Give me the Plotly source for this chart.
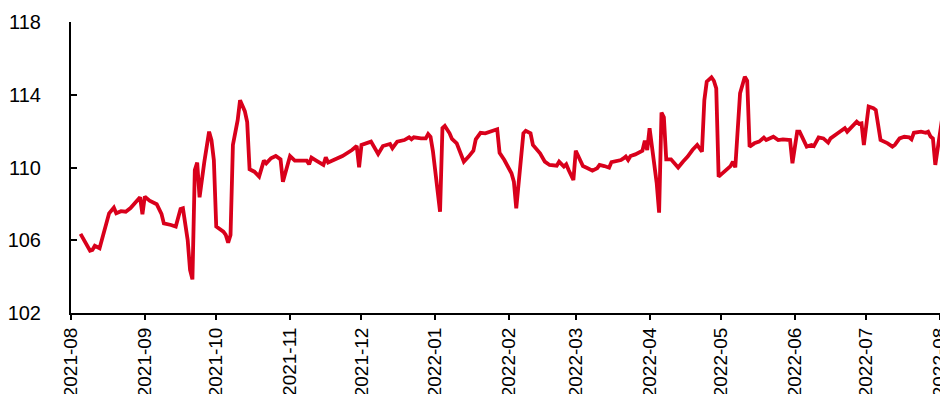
import plotly.graph_objects as go

dates = [
    "2021-08-05", "2021-08-07", "2021-08-09", "2021-08-10", "2021-08-11", "2021-08-13",
    "2021-08-17", "2021-08-19", "2021-08-20", "2021-08-22", "2021-08-24", "2021-08-26",
    "2021-08-28", "2021-08-30", "2021-08-31",
    "2021-09-01", "2021-09-03", "2021-09-06", "2021-09-08", "2021-09-09", "2021-09-12",
    "2021-09-14", "2021-09-16", "2021-09-17", "2021-09-19", "2021-09-20", "2021-09-21",
    "2021-09-22", "2021-09-23", "2021-09-24", "2021-09-26", "2021-09-28", "2021-09-29",
    "2021-09-30",
    "2021-10-01", "2021-10-04", "2021-10-05", "2021-10-06", "2021-10-07", "2021-10-08",
    "2021-10-10", "2021-10-11", "2021-10-13", "2021-10-14", "2021-10-15", "2021-10-17",
    "2021-10-19", "2021-10-21", "2021-10-22", "2021-10-24", "2021-10-26", "2021-10-28",
    "2021-10-29",
    "2021-11-01", "2021-11-03", "2021-11-06", "2021-11-08", "2021-11-09", "2021-11-10",
    "2021-11-12", "2021-11-15", "2021-11-16", "2021-11-17", "2021-11-20", "2021-11-22",
    "2021-11-23", "2021-11-27", "2021-11-29", "2021-11-30",
    "2021-12-01", "2021-12-05", "2021-12-08", "2021-12-10", "2021-12-13", "2021-12-14",
    "2021-12-16", "2021-12-19", "2021-12-21", "2021-12-22", "2021-12-23", "2021-12-26",
    "2021-12-28", "2021-12-29", "2021-12-30", "2021-12-31",
    "2022-01-03", "2022-01-04", "2022-01-05", "2022-01-07", "2022-01-08", "2022-01-10",
    "2022-01-13", "2022-01-15", "2022-01-17", "2022-01-18", "2022-01-20", "2022-01-22",
    "2022-01-25", "2022-01-26", "2022-01-27", "2022-01-28", "2022-01-30",
    "2022-02-02", "2022-02-03", "2022-02-04", "2022-02-06", "2022-02-07", "2022-02-08",
    "2022-02-10", "2022-02-11", "2022-02-14", "2022-02-16", "2022-02-18", "2022-02-21",
    "2022-02-22", "2022-02-24", "2022-02-25", "2022-02-26", "2022-02-28",
    "2022-03-01", "2022-03-02", "2022-03-04", "2022-03-06", "2022-03-08", "2022-03-10",
    "2022-03-11", "2022-03-13", "2022-03-15", "2022-03-16", "2022-03-18", "2022-03-20",
    "2022-03-21", "2022-03-22", "2022-03-23", "2022-03-24", "2022-03-26", "2022-03-29",
    "2022-03-30", "2022-03-31",
    "2022-04-01", "2022-04-02", "2022-04-04", "2022-04-05", "2022-04-06", "2022-04-07",
    "2022-04-08", "2022-04-10", "2022-04-13", "2022-04-15", "2022-04-17", "2022-04-19",
    "2022-04-21", "2022-04-23", "2022-04-24", "2022-04-25", "2022-04-27", "2022-04-28",
    "2022-04-29", "2022-04-30",
    "2022-05-02", "2022-05-05", "2022-05-06", "2022-05-07", "2022-05-09", "2022-05-11",
    "2022-05-12", "2022-05-13", "2022-05-15", "2022-05-17", "2022-05-19", "2022-05-20",
    "2022-05-23", "2022-05-25", "2022-05-27", "2022-05-30", "2022-05-31",
    "2022-06-02", "2022-06-03", "2022-06-06", "2022-06-08", "2022-06-09", "2022-06-11",
    "2022-06-13", "2022-06-15", "2022-06-16", "2022-06-19", "2022-06-22", "2022-06-23",
    "2022-06-25", "2022-06-27", "2022-06-28", "2022-06-29", "2022-06-30",
    "2022-07-02", "2022-07-04", "2022-07-05", "2022-07-07", "2022-07-10", "2022-07-12",
    "2022-07-13", "2022-07-15", "2022-07-17", "2022-07-19", "2022-07-20", "2022-07-21",
    "2022-07-24", "2022-07-26", "2022-07-27", "2022-07-28", "2022-07-29", "2022-07-30",
    "2022-07-31",
    "2022-08-02", "2022-08-03", "2022-08-04",
]

values = [
    106.35, 105.85, 105.43, 105.47, 105.70, 105.56,
    107.48, 107.79, 107.48, 107.60, 107.57, 107.77,
    108.03, 108.36, 107.43,
    108.40, 108.18, 107.98, 107.45, 106.93, 106.84,
    106.75, 107.72, 107.76, 106.02, 104.37, 103.85,
    109.86, 110.27, 108.36, 110.32, 111.97, 111.50,
    110.40,
    106.75, 106.47, 106.29, 105.87, 106.29, 111.24,
    112.60, 113.70, 113.10, 112.50, 109.90, 109.77,
    109.50, 110.38, 110.23, 110.51, 110.63, 110.45,
    109.22,
    110.63, 110.38, 110.38, 110.38, 110.18, 110.54,
    110.38, 110.14, 110.56, 110.27, 110.45, 110.56,
    110.63, 110.96, 111.18, 110.01,
    111.24, 111.42, 110.74, 111.18, 111.29, 111.06,
    111.42, 111.51, 111.66, 111.55, 111.66, 111.60,
    111.60, 111.84, 111.69, 110.90,
    107.57, 112.16, 112.28, 111.88, 111.57, 111.33,
    110.32, 110.60, 110.92, 111.55, 111.91, 111.88,
    112.02, 112.06, 112.10, 110.81, 110.41,
    109.68, 109.22, 107.76, 110.23, 111.88, 112.02,
    111.88, 111.24, 110.78, 110.32, 110.14, 110.10,
    110.32, 110.05, 110.18, 109.86, 109.31,
    110.92, 110.60, 110.08, 109.96, 109.83, 109.96,
    110.14, 110.08, 109.99, 110.30, 110.35, 110.41,
    110.50, 110.60, 110.41, 110.63, 110.72, 110.92,
    111.48, 110.96,
    112.16, 111.15, 109.13, 107.52, 113.02, 112.76,
    110.45, 110.45, 110.00, 110.32, 110.60, 110.96,
    111.24, 110.87, 113.70, 114.72, 114.96, 114.77,
    114.35, 109.50,
    109.74, 110.08, 110.32, 110.01, 114.08, 114.99,
    114.77, 111.15, 111.33, 111.42, 111.64, 111.51,
    111.69, 111.51, 111.55, 111.51, 110.23,
    111.97, 111.97, 111.15, 111.24, 111.18, 111.66,
    111.60, 111.37, 111.60, 111.88, 112.16, 111.97,
    112.25, 112.52, 112.40, 112.43, 111.24,
    113.35, 113.26, 113.16, 111.51, 111.33, 111.15,
    111.24, 111.60, 111.69, 111.66, 111.55, 111.91,
    111.97, 111.91, 111.97, 111.70, 111.60, 110.14,
    111.15,
    112.80, 112.90, 112.25,
]

x_tick_vals = [
    "2021-08-01", "2021-09-01", "2021-10-01", "2021-11-01", "2021-12-01",
    "2022-01-01", "2022-02-01", "2022-03-01", "2022-04-01", "2022-05-01",
    "2022-06-01", "2022-07-01", "2022-08-01",
]
x_tick_text = [
    "2021-08", "2021-09", "2021-10", "2021-11", "2021-12",
    "2022-01", "2022-02", "2022-03", "2022-04", "2022-05",
    "2022-06", "2022-07", "2022-08",
]
y_ticks = [102, 106, 110, 114, 118]

fig = go.Figure()
fig.add_trace(go.Scatter(
    x=dates, y=values, mode="lines",
    line=dict(color="#D9001B", width=3.8),
    showlegend=False, hoverinfo="skip",
))

font_family = "Liberation Sans, Arial, sans-serif"

# The page body has an 8px default margin; the figure is sized/margined to compensate.
fig.update_layout(
    width=940, height=386,
    margin=dict(l=63, r=0, t=14, b=81),
    paper_bgcolor="white", plot_bgcolor="white",
    showlegend=False,
    xaxis=dict(
        type="date",
        range=["2021-08-01", "2022-08-04 08:00"],
        tickmode="array", tickvals=x_tick_vals, ticktext=x_tick_text,
        tickangle=-90,
        tickfont=dict(family=font_family, size=19, color="#000000"),
        showgrid=False, zeroline=False,
        showline=True, linecolor="#000000", linewidth=2,
        ticks="outside", ticklen=5, tickwidth=2, tickcolor="#000000",
        automargin=False, ticklabeloverflow="allow",
    ),
    yaxis=dict(
        range=[102, 118],
        tickmode="array", tickvals=y_ticks,
        tickfont=dict(family=font_family, size=20, color="#000000"),
        showgrid=False, zeroline=False,
        showline=True, linecolor="#000000", linewidth=2,
        ticks="inside", ticklen=6, tickwidth=2, tickcolor="#000000",
        ticklabelstandoff=24,
        automargin=False, ticklabeloverflow="allow",
    ),
)

fig.write_html("out.html")
